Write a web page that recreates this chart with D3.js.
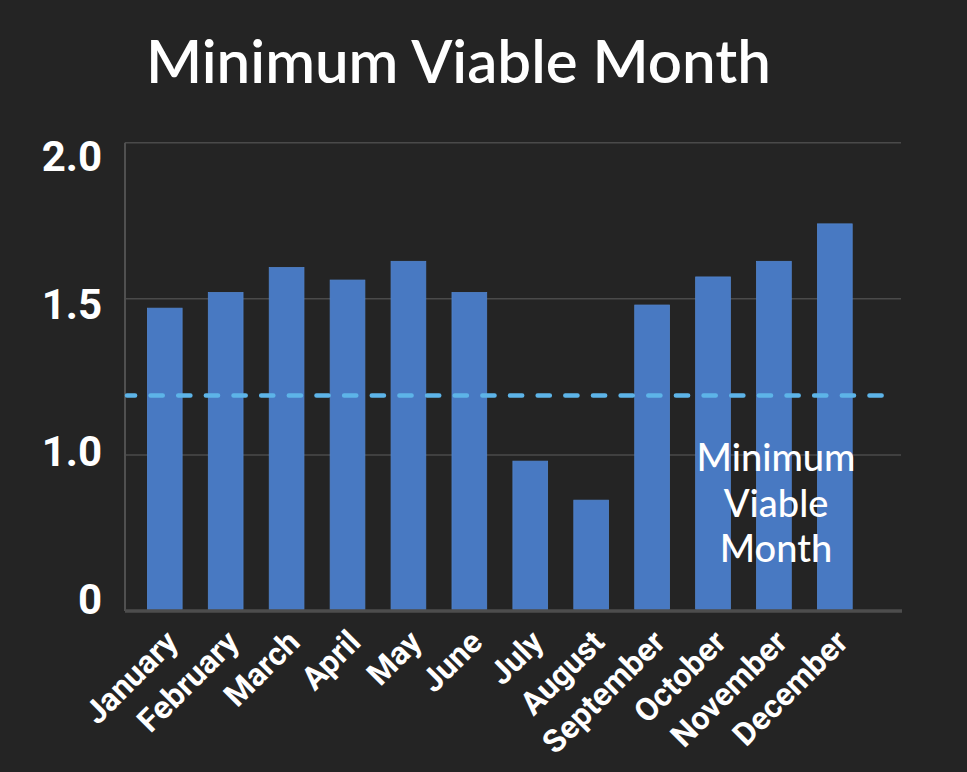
<!DOCTYPE html>
<html>
<head>
<meta charset="utf-8">
<script src="https://cdn.jsdelivr.net/npm/d3@7"></script>
<style>
  html, body { margin: 0; padding: 0; background: #242424; }
  svg { display: block; }
</style>
</head>
<body>
<svg id="chart" width="967" height="772"></svg>
<script>
// ---- data ----
const months = ["January","February","March","April","May","June","July","August","September","October","November","December"];
const values = [1.47, 1.52, 1.60, 1.56, 1.62, 1.52, 0.98, 0.855, 1.48, 1.57, 1.62, 1.74];
const yTickValues = [0.5, 1.0, 1.5, 2.0];
const yTickLabels = ["0", "1.0", "1.5", "2.0"];
const threshold = 1.19;
const titleText = "Minimum Viable Month";
const annotationLines = ["Minimum", "Viable", "Month"];

// ---- layout ----
const W = 967, H = 772;
const plot = { left: 125, right: 901, top: 142.7, bottom: 611 };

const svg = d3.select("#chart");
svg.append("rect").attr("width", W).attr("height", H).attr("fill", "#242424");

const x = d3.scaleBand()
  .domain(months)
  .range([134.3, 865.3])
  .paddingInner(0.43)
  .paddingOuter(0.215);

const y = d3.scaleLinear()
  .domain([0.5, 2.0])
  .range([plot.bottom, plot.top]);

// label placement scale for the y tick texts
const yLabel = d3.scaleLinear()
  .domain([0.5, 2.0])
  .range([600, 157]);

// gridlines
svg.append("g")
  .selectAll("line")
  .data(yTickValues.filter(v => v > 0.5))
  .join("line")
  .attr("x1", plot.left).attr("x2", plot.right)
  .attr("y1", d => y(d)).attr("y2", d => y(d))
  .attr("stroke", "#4a4a4a").attr("stroke-width", 1.5);

// left axis line
svg.append("line")
  .attr("x1", plot.left).attr("x2", plot.left)
  .attr("y1", plot.top).attr("y2", plot.bottom)
  .attr("stroke", "#505050").attr("stroke-width", 2);

// bars
svg.append("g")
  .selectAll("rect")
  .data(months.map((m, i) => ({ m, v: values[i] })))
  .join("rect")
  .attr("x", d => x(d.m))
  .attr("width", x.bandwidth())
  .attr("y", d => y(d.v))
  .attr("height", d => y(0.5) - y(d.v) - 1.5)
  .attr("fill", "#4879c2")
  .attr("stroke", "#5284cc")
  .attr("stroke-width", 0.8);

// bottom axis line
svg.append("line")
  .attr("x1", plot.left).attr("x2", plot.right + 1)
  .attr("y1", plot.bottom).attr("y2", plot.bottom)
  .attr("stroke", "#4d4d4d").attr("stroke-width", 3.5);

// threshold dashed line
svg.append("line")
  .attr("x1", plot.left + 2).attr("x2", 884)
  .attr("y1", y(threshold)).attr("y2", y(threshold))
  .attr("stroke", "#5db4e8")
  .attr("stroke-width", 4.5)
  .attr("stroke-linecap", "round")
  .attr("stroke-dasharray", "12.2 15.45")
  .attr("stroke-dashoffset", 4.1);

// y axis labels
const yAxis = d3.axisLeft(yLabel)
  .tickValues(yTickValues)
  .tickFormat((d, i) => yTickLabels[i])
  .tickSize(0)
  .tickPadding(0);
const gy = svg.append("g")
  .attr("transform", `translate(102,0)`)
  .call(yAxis);
gy.select(".domain").remove();
gy.selectAll("text")
  .attr("fill", "#ffffff")
  .style("font-family", "Roboto, 'Liberation Sans', sans-serif")
  .style("font-weight", "bold")
  .style("font-size", "42px");

// x axis labels
const xAxis = d3.axisBottom(x).tickSize(0).tickPadding(0);
const gx = svg.append("g")
  .attr("transform", `translate(0,${plot.bottom})`)
  .call(xAxis);
gx.select(".domain").remove();
gx.selectAll("text")
  .attr("fill", "#ffffff")
  .style("font-family", "Roboto, 'Liberation Sans', sans-serif")
  .style("font-weight", "bold")
  .style("font-size", "32px")
  .attr("text-anchor", "end")
  .attr("dy", "0")
  .attr("transform", "translate(15,33) rotate(-45)");

// title
svg.append("text")
  .attr("x", 146).attr("y", 83)
  .attr("fill", "#ffffff")
  .style("font-family", "Lato, 'Open Sans', sans-serif")
  .style("font-weight", "600")
  .style("font-size", "60px")
  .text(titleText);

// annotation
svg.append("text")
  .attr("text-anchor", "middle")
  .attr("fill", "#ffffff")
  .style("font-family", "Lato, 'Open Sans', sans-serif")
  .style("font-weight", "500")
  .style("font-size", "38px")
  .selectAll("tspan")
  .data(annotationLines)
  .join("tspan")
  .attr("x", 776)
  .attr("y", (d, i) => 471 + i * 45.5)
  .text(d => d);
</script>
</body>
</html>
